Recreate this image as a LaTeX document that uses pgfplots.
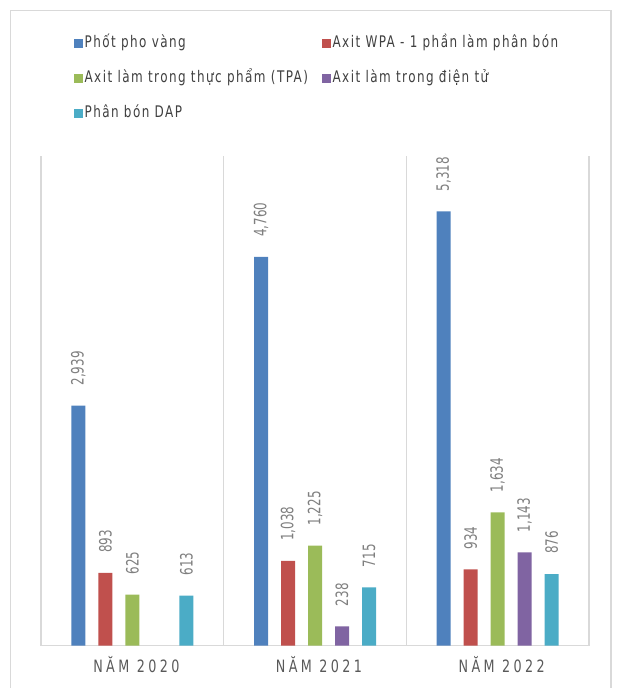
\documentclass[border=0pt]{standalone}
\usepackage{pgfplots}
\pgfplotsset{compat=1.18}
\usepackage{fontspec}
\setmainfont{DejaVu Sans}
\newfontfamily\lblfont{DejaVu Sans}[FakeStretch=0.7]
\newfontfamily\legfont{DejaVu Sans}[FakeStretch=0.75, LetterSpace=9]
\newfontfamily\catfont{DejaVu Sans}[FakeStretch=0.75, LetterSpace=20]
\definecolor{cblue}{HTML}{4F81BD}
\definecolor{cred}{HTML}{C0504D}
\definecolor{cgreen}{HTML}{9BBB59}
\definecolor{cpurple}{HTML}{8064A2}
\definecolor{ccyan}{HTML}{4BACC6}
\definecolor{sepgray}{HTML}{D9D9D9}
\definecolor{bordergray}{HTML}{D9D9D9}
\definecolor{textgray}{HTML}{595959}
\definecolor{legtext}{HTML}{404040}
\definecolor{labelgray}{HTML}{7F7F7F}
\begin{document}
\begin{tikzpicture}[x=1pt,y=1pt]
\useasboundingbox (0,0) rectangle (622,688);
\draw[bordergray, line width=1.2pt] (10.5,-5) -- (10.5,677.5) -- (611,677.5) -- (611,-5);
\begin{axis}[
  at={(41pt,42.3pt)}, anchor=south west,
  scale only axis, width=548pt, height=490pt,
  xmin=-0.5, xmax=2.5, ymin=0, ymax=6000,
  ybar, bar width=14pt,
  axis x line=bottom, axis y line=none,
  x axis line style={-, draw=sepgray, line width=1.5pt},
  xtick={0,1,2}, xticklabels={NĂM 2020, NĂM 2021, NĂM 2022},
  major tick length=0pt,
  xticklabel style={font=\catfont\fontsize{17}{20}\selectfont, text=textgray, anchor=center, yshift=-20.5pt, xshift=4pt, text height=12.4pt, text depth=0pt},
  extra x ticks={-0.5,0.5,1.5,2.5}, extra x tick labels={},
  extra x tick style={grid=major, major grid style={sepgray, line width=1.5pt}},
  nodes near coords,
  nodes near coords style={rotate=90, anchor=west, font=\lblfont\fontsize{17}{20}\selectfont, text=labelgray, inner xsep=20pt, inner ysep=0pt},
  /pgf/number format/assume math mode=true,
  /pgf/number format/1000 sep={,},
  clip=false,
  legend columns=2,
  legend cell align=left,
  legend style={at={(0.0595,1.2443)}, anchor=north west, draw=none, fill=none, inner sep=0pt, outer sep=0pt,
    font=\legfont\fontsize{16}{19}\selectfont, text=legtext, row sep=19pt,
    nodes={inner xsep=2pt, inner ysep=0pt, text height=12pt, text depth=4pt},
    /tikz/every even column/.append style={column sep=15pt}},
  every axis plot/.append style={legend image code/.code={\fill[##1] (0pt,-4.5pt) rectangle (9pt,4.5pt);}},
]
\addplot[fill=cblue, draw=none, bar shift=-54pt] coordinates {(0,2939) (1,4760) (2,5318)};
\addlegendentry{\makebox[220pt][l]{Phốt pho vàng}}
\addplot[fill=cred, draw=none, bar shift=-27pt] coordinates {(0,893) (1,1038) (2,934)};
\addlegendentry{Axit WPA - 1 phần làm phân bón}
\addplot[fill=cgreen, draw=none, bar shift=0pt] coordinates {(0,625) (1,1225) (2,1634)};
\addlegendentry{\makebox[220pt][l]{Axit làm trong thực phẩm (TPA)}}
\addplot[fill=cpurple, draw=none, bar shift=27pt] coordinates {(1,238) (2,1143)};
\addlegendentry{Axit làm trong điện tử}
\addplot[fill=ccyan, draw=none, bar shift=54pt] coordinates {(0,613) (1,715) (2,876)};
\addlegendentry{\makebox[220pt][l]{Phân bón DAP}}
\end{axis}
\end{tikzpicture}
\end{document}
